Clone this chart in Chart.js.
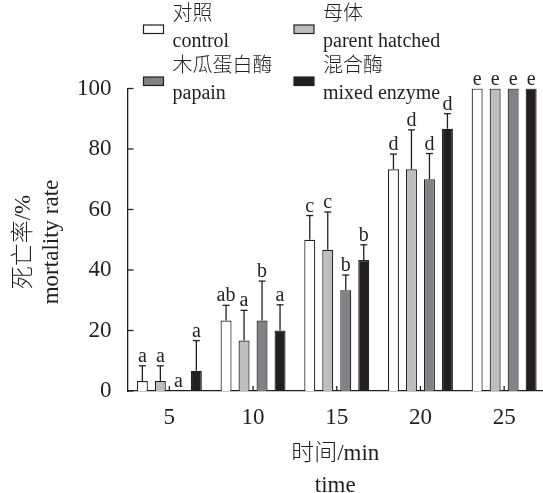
<!DOCTYPE html>
<html>
<head>
<meta charset="utf-8">
<title>mortality rate</title>
<script src="https://cdn.jsdelivr.net/npm/chart.js@4.4.0/dist/chart.umd.min.js"></script>
<style>
    html, body { margin: 0; padding: 0; background: #fff; overflow: hidden; }
    #wrap { position: relative; width: 548px; height: 493px; }
</style>
</head>
<body>
<div id="wrap"><canvas id="mortalityChart"></canvas></div>
<script>
// time points (min)
var categories = ['5', '10', '15', '20', '25'];

// mortality rate (%) per treatment
var controlValues = [3.33, 23.33, 50, 73.33, 100];
var parentValues  = [3.33, 16.67, 46.67, 73.33, 100];
var papainValues  = [0, 23.33, 33.33, 70, 100];
var mixedValues   = [6.67, 20, 43.33, 86.67, 100];

// standard deviations (upper error bar)
var controlErrors = [5, 5, 8, 5, 0];
var parentErrors  = [5, 10, 12.5, 13, 0];
var papainErrors  = [0, 13, 5, 8.5, 0];
var mixedErrors   = [10, 8.5, 5, 5, 0];

// significance letters
var controlLetters = ['a', 'ab', 'c', 'd', 'e'];
var parentLetters  = ['a', 'a', 'c', 'd', 'e'];
var papainLetters  = ['a', 'b', 'b', 'd', 'e'];
var mixedLetters   = ['a', 'a', 'b', 'd', 'e'];

var yTicks = [0, 20, 40, 60, 80, 100];

var seriesNames = [['对照', 'control'], ['母体', 'parent hatched'], ['木瓜蛋白酶', 'papain'], ['混合酶', 'mixed enzyme']];

var ink = '#231f20';
var serif = '"Liberation Serif", "Times New Roman", "Noto Sans CJK SC", serif';

var errors = [controlErrors, parentErrors, papainErrors, mixedErrors];
var letters = [controlLetters, parentLetters, papainLetters, mixedLetters];

function line(ctx, x1, y1, x2, y2) {
    ctx.beginPath();
    ctx.moveTo(x1, y1);
    ctx.lineTo(x2, y2);
    ctx.stroke();
}

// inward ticks, error bars, letters, titles and the legend
var decorations = {
    id: 'decorations',
    afterDatasetsDraw: function (chart) {
        var ctx = chart.ctx;
        var area = chart.chartArea;
        var xs = chart.scales.x;
        var ys = chart.scales.y;
        ctx.save();
        ctx.strokeStyle = ink;
        ctx.lineWidth = 1.3;

        yTicks.forEach(function (v) {
            var py = ys.getPixelForValue(v);
            line(ctx, area.left, py, area.left + 6, py);
        });
        categories.forEach(function (c, i) {
            var px = xs.getPixelForValue(i);
            line(ctx, px, area.bottom, px, area.bottom - 5);
        });

        ctx.fillStyle = ink;
        ctx.font = '20px ' + serif;
        ctx.textAlign = 'center';
        ctx.textBaseline = 'alphabetic';
        chart.data.datasets.forEach(function (ds, di) {
            var meta = chart.getDatasetMeta(di);
            meta.data.forEach(function (bar, i) {
                var err = errors[di][i];
                var top = ys.getPixelForValue(ds.data[i] + err);
                if (err > 0) {
                    line(ctx, bar.x, bar.y, bar.x, top);
                    line(ctx, bar.x - 3.5, top, bar.x + 3.5, top);
                }
                ctx.fillText(letters[di][i], bar.x, top - 4);
            });
        });
        ctx.restore();
    },
    afterDraw: function (chart) {
        var ctx = chart.ctx;
        var area = chart.chartArea;
        ctx.save();
        ctx.fillStyle = ink;

        // axis titles
        ctx.font = '300 23px ' + serif;
        ctx.textAlign = 'center';
        ctx.textBaseline = 'alphabetic';
        var midX = (area.left + 543) / 2;
        ctx.fillText('时间/min', midX, 460);
        ctx.fillText('time', midX, 492);

        ctx.save();
        ctx.translate(0, 242);
        ctx.rotate(-Math.PI / 2);
        ctx.fillText('死亡率/%', 0, 30);
        ctx.fillText('mortality rate', 0, 58);
        ctx.restore();

        // legend, two columns by two rows
        var cols = [143.5, 294];
        var rows = [0, 52];
        ctx.font = '300 20px ' + serif;
        ctx.textAlign = 'left';
        chart.data.datasets.forEach(function (ds, di) {
            var bx = cols[di % 2];
            var by = rows[Math.floor(di / 2)];
            ctx.fillStyle = ds.backgroundColor;
            ctx.fillRect(bx, by + 25, 20, 8.5);
            ctx.strokeStyle = ink;
            ctx.lineWidth = 1.2;
            ctx.strokeRect(bx, by + 25, 20, 8.5);
            ctx.fillStyle = ink;
            ctx.textBaseline = 'middle';
            ctx.fillText(seriesNames[di][0], bx + 29, by + 15);
            ctx.textBaseline = 'alphabetic';
            ctx.fillText(seriesNames[di][1], bx + 29, by + 47);
        });
        ctx.restore();
    }
};

function barSet(label, data, color) {
    return {
        label: label,
        data: data,
        backgroundColor: color,
        borderColor: ink,
        borderWidth: 1.2,
        borderSkipped: 'start',
        categoryPercentage: 0.86,
        barPercentage: 0.61
    };
}

var ctx = document.getElementById('mortalityChart').getContext('2d');
var chart = new Chart(ctx, {
    type: 'bar',
    data: {
        labels: categories,
        datasets: [
            barSet('control', controlValues, '#ffffff'),
            barSet('parent hatched', parentValues, '#bcbec0'),
            barSet('papain', papainValues, '#808285'),
            barSet('mixed enzyme', mixedValues, '#231f20')
        ]
    },
    options: {
        responsive: true,
        maintainAspectRatio: false,
        animation: false,
        devicePixelRatio: 1,
        layout: { padding: { top: 88.5, right: 2, bottom: 0, left: 0 } },
        plugins: {
            legend: { display: false },
            tooltip: { enabled: false }
        },
        scales: {
            x: {
                offset: true,
                grid: { display: false, drawTicks: false },
                border: { display: true, color: ink, width: 1.3 },
                ticks: { color: ink, padding: 13, font: { family: serif, size: 23 } },
                afterFit: function (scale) { scale.height = 102; }
            },
            y: {
                min: 0,
                max: 100,
                grid: { display: false, drawTicks: false },
                border: { display: true, color: ink, width: 1.3 },
                ticks: { stepSize: 20, color: ink, padding: 16, font: { family: serif, size: 23 } },
                afterFit: function (scale) { scale.width = 127.5; }
            }
        }
    },
    plugins: [decorations]
});
</script>
</body>
</html>
